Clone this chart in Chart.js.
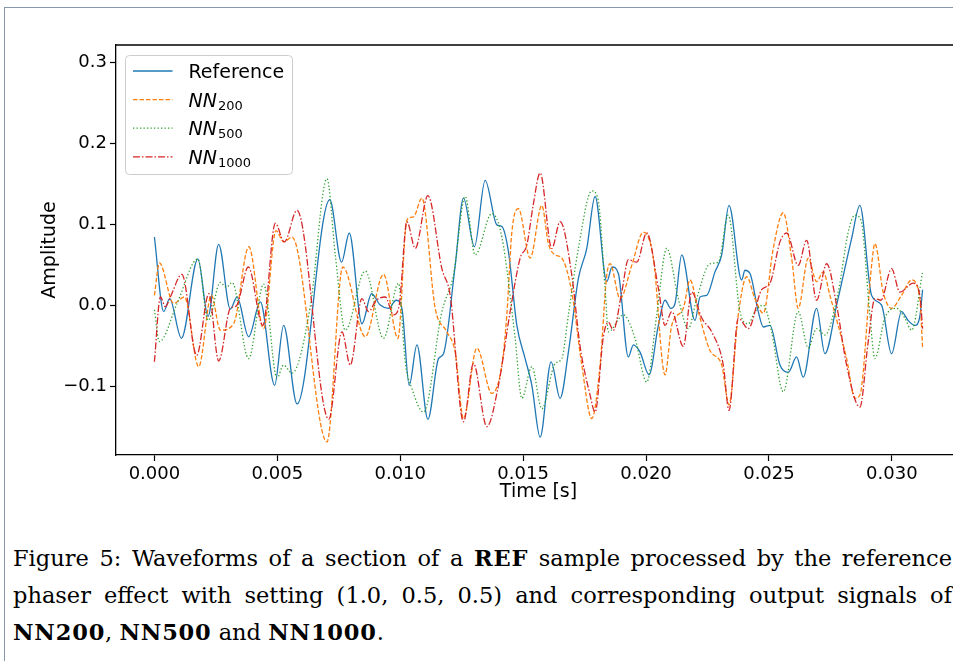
<!DOCTYPE html>
<html>
<head>
<meta charset="utf-8">
<title>Waveforms</title>
<script src="https://cdn.jsdelivr.net/npm/chart.js@4.4.1/dist/chart.umd.min.js"></script>
<style>
  body { margin: 0; background: #fff; overflow: hidden; width: 953px; height: 661px; position: relative; }
  #frame { position: absolute; left: 4px; top: 7px; width: 990px; height: 700px;
           border-top: 1px solid #8796aa; border-left: 1px solid #8796aa; }
  #plot { position: absolute; left: 0; top: 0; width: 975px; height: 520px; }
  #caption { position: absolute; left: 13px; top: 540px; width: 939px;
             font-family: "DejaVu Serif", "Liberation Serif", serif; font-size: 22.5px; line-height: 37px; color: #000; }
  #caption div { text-align: justify; text-align-last: justify; white-space: nowrap; }
  #caption div.last { text-align-last: left; }
  #caption b { letter-spacing: 0.8px; }
</style>
</head>
<body>
<div id="frame"></div>
<div id="plot"><canvas id="chart"></canvas></div>
<div id="caption">
  <div>Figure 5: Waveforms of a section of a <b>REF</b> sample processed by the reference</div>
  <div>phaser effect with setting (1.0, 0.5, 0.5) and corresponding output signals of</div>
  <div class="last"><b>NN200</b>, <b>NN500</b> and <b>NN1000</b>.</div>
</div>
<script>
// --- data (time in ms, amplitude) ---
const refTimeMs = [0, 0.378, 0.622, 1.098, 1.768, 2.183, 2.614, 3.089, 3.362, 3.833, 4.309, 4.890, 5.256, 5.801, 7.134, 7.614, 7.927, 8.443, 8.833, 9.187, 9.524, 9.837, 10.069, 10.366, 10.679, 11.126, 11.557, 11.760, 12.236, 12.573, 13.020, 13.455, 13.931, 14.134, 14.402, 14.744, 15.081, 15.354, 15.691, 16.138, 16.504, 16.841, 17.248, 17.589, 17.927, 18.402, 18.618, 18.874, 19.280, 19.484, 19.756, 20.122, 20.500, 20.772, 21.004, 21.179, 21.451, 21.992, 22.195, 22.467, 22.805, 23.077, 23.374, 23.890, 24.024, 24.228, 24.565, 24.768, 25.041, 25.447, 25.785, 26.126, 26.394, 26.939, 27.276, 27.752, 28.362, 28.699, 29.175, 29.581, 29.988, 30.394, 30.663, 30.935, 31.138, 31.25];
const refAmp = [0.084, -0.008, 0.008, -0.041, 0.057, -0.014, 0.075, -0.005, 0.010, -0.039, 0.004, -0.099, -0.025, -0.122, 0.130, 0.053, 0.089, -0.023, 0.014, 0.000, -0.004, 0.006, -0.004, -0.099, -0.049, -0.141, -0.066, -0.060, 0.049, 0.132, 0.072, 0.154, 0.099, 0.097, 0.066, -0.025, -0.066, -0.099, -0.163, -0.070, -0.115, -0.058, 0.033, 0.070, 0.134, 0.029, 0.047, 0.039, -0.064, -0.049, -0.058, -0.086, -0.025, 0.006, -0.004, 0.002, 0.062, -0.019, 0.010, 0.012, 0.041, 0.062, 0.123, 0.031, 0.043, 0.039, -0.008, -0.027, -0.025, -0.074, -0.083, -0.064, -0.089, -0.004, -0.060, 0.000, 0.082, 0.123, 0.012, 0.000, -0.060, -0.008, -0.019, -0.025, -0.014, 0.019];

const nn200TimeMs = [0, 0.203, 0.785, 1.220, 1.801, 2.317, 2.683, 3.224, 3.841, 4.443, 4.947, 5.264, 5.598, 7.020, 7.663, 8.577, 9.321, 9.907, 10.272, 10.541, 10.882, 11.423, 11.898, 12.236, 12.573, 13.118, 13.728, 14.134, 14.337, 14.541, 14.809, 15.285, 15.760, 16.028, 16.301, 16.573, 16.980, 17.386, 17.793, 18.130, 18.402, 18.537, 18.943, 19.419, 19.890, 20.297, 20.772, 21.045, 21.516, 21.789, 22.126, 22.602, 23.077, 23.374, 23.752, 24.093, 24.431, 24.768, 25.175, 25.581, 25.923, 26.191, 26.598, 26.939, 27.207, 27.480, 28.159, 28.496, 28.699, 29.175, 29.309, 29.646, 29.988, 30.394, 30.801, 31.138, 31.25];
const nn200Amp = [0.012, 0.052, 0.002, 0.010, -0.076, 0.012, -0.031, -0.023, 0.072, -0.029, 0.092, 0.078, 0.084, -0.169, 0.047, -0.039, 0.038, -0.041, 0.105, 0.109, 0.132, -0.004, -0.033, -0.058, -0.140, -0.053, -0.109, -0.074, -0.012, 0.090, 0.119, 0.058, 0.123, 0.076, 0.062, 0.058, 0.016, -0.074, -0.140, -0.074, 0.037, 0.051, 0.008, 0.049, 0.090, 0.058, -0.086, -0.025, -0.004, 0.031, -0.008, -0.056, -0.074, -0.123, -0.012, 0.035, 0.008, -0.010, 0.070, 0.114, 0.058, -0.004, 0.058, 0.029, 0.041, 0.012, -0.066, -0.115, -0.111, 0.049, 0.076, 0.016, -0.004, 0.012, 0.031, 0.008, -0.053];

const nn500TimeMs = [0, 0.203, 0.923, 1.768, 2.183, 2.683, 2.927, 3.159, 3.833, 4.443, 4.988, 5.256, 5.598, 6.341, 7.020, 7.358, 7.764, 8.577, 9.321, 9.931, 10.203, 10.476, 10.947, 11.695, 12.167, 12.642, 13.049, 13.728, 14.134, 14.675, 14.947, 15.354, 15.760, 16.301, 16.573, 16.841, 17.248, 17.793, 18.049, 18.333, 18.468, 19.077, 19.553, 20.028, 20.435, 20.841, 21.313, 21.720, 22.061, 22.602, 22.939, 23.346, 23.821, 24.159, 24.431, 24.768, 25.110, 25.581, 26.191, 26.598, 26.939, 27.276, 27.817, 28.224, 28.496, 28.740, 29.106, 29.309, 29.715, 30.191, 30.528, 30.801, 31.25];
const nn500Amp = [-0.006, -0.045, 0.002, 0.057, -0.019, 0.028, 0.022, 0.028, -0.066, 0.026, -0.090, -0.074, -0.084, -0.002, 0.156, 0.062, -0.031, 0.042, -0.041, 0.027, -0.070, -0.103, -0.132, -0.008, 0.037, 0.134, 0.062, 0.113, 0.084, -0.041, -0.115, -0.076, -0.128, -0.072, -0.066, -0.012, 0.070, 0.141, 0.130, 0.021, -0.033, -0.012, -0.041, -0.095, -0.012, 0.070, 0.008, -0.029, 0.008, 0.051, 0.053, 0.111, -0.008, -0.023, -0.008, 0.000, -0.033, -0.107, -0.008, -0.053, -0.029, -0.037, 0.016, 0.090, 0.111, 0.105, -0.012, -0.066, -0.016, -0.004, -0.016, -0.031, 0.041];

const nn1000TimeMs = [0, 0.244, 0.447, 0.650, 1.118, 1.720, 2.215, 2.614, 3.089, 3.333, 3.821, 4.411, 4.919, 5.285, 5.801, 7.093, 7.630, 7.967, 8.443, 8.711, 9.024, 9.390, 9.728, 9.959, 10.272, 10.610, 11.126, 11.695, 12.033, 12.573, 12.980, 13.524, 13.996, 14.472, 14.878, 15.150, 15.407, 15.691, 16.167, 16.504, 16.980, 17.317, 17.724, 17.927, 18.264, 18.468, 18.671, 19.012, 19.280, 19.622, 20.028, 20.500, 20.772, 21.045, 21.516, 21.858, 22.264, 22.671, 23.142, 23.374, 23.752, 24.159, 24.703, 25.041, 25.447, 25.720, 26.191, 26.533, 26.939, 27.346, 27.752, 28.159, 28.699, 29.037, 29.309, 29.553, 29.988, 30.325, 30.866, 31.138, 31.25];
const nn1000Amp = [-0.070, 0.010, -0.002, 0.010, 0.038, -0.062, 0.014, -0.069, -0.004, -0.001, 0.047, -0.025, 0.101, 0.078, 0.117, -0.141, -0.033, -0.074, 0.008, -0.008, 0.006, 0.010, -0.012, 0.000, 0.103, 0.070, 0.135, 0.045, 0.012, -0.144, -0.072, -0.150, -0.099, -0.008, 0.058, 0.074, 0.123, 0.163, 0.070, 0.103, 0.037, -0.051, -0.111, -0.132, -0.039, -0.021, -0.031, 0.016, 0.056, 0.053, 0.089, 0.021, -0.025, -0.008, -0.051, 0.016, -0.016, -0.033, -0.074, -0.130, -0.016, -0.029, 0.019, 0.027, 0.078, 0.089, 0.049, 0.080, 0.006, 0.051, 0.000, -0.074, -0.126, -0.045, 0.008, 0.006, 0.045, 0.016, 0.027, 0.012, -0.029];

const xTicks = [0, 0.005, 0.010, 0.015, 0.020, 0.025, 0.030];
const yTicks = [-0.1, 0.0, 0.1, 0.2, 0.3];
const X_MIN = -0.0015625, X_MAX = 0.0328125;
const Y_MIN = -0.185, Y_MAX = 0.321;

const FONT = '"DejaVu Sans", sans-serif';

// build {x,y} points, time converted to seconds
function toPoints(timesMs, amps) {
    return timesMs.map((t, i) => ({ x: t / 1000, y: amps[i] }));
}

const datasets = [
    { label: 'Reference', data: toPoints(refTimeMs, refAmp), borderColor: '#1f77b4', borderWidth: 1.3, borderDash: [], order: 3 },
    { label: 'NN200', data: toPoints(nn200TimeMs, nn200Amp), borderColor: '#ff7f0e', borderWidth: 1.3, borderDash: [4.5, 2], order: 2 },
    { label: 'NN500', data: toPoints(nn500TimeMs, nn500Amp), borderColor: '#2ca02c', borderWidth: 1.3, borderDash: [1.3, 2.2], order: 1 },
    { label: 'NN1000', data: toPoints(nn1000TimeMs, nn1000Amp), borderColor: '#d62728', borderWidth: 1.3, borderDash: [7, 2, 1.5, 2], order: 0 }
];

// matplotlib-style top spine
const topSpine = {
    id: 'topSpine',
    afterDraw(chart) {
        const { ctx, chartArea } = chart;
        ctx.save();
        ctx.strokeStyle = '#000';
        ctx.lineWidth = 1.3;
        ctx.beginPath();
        ctx.moveTo(chartArea.left, chartArea.top);
        ctx.lineTo(chartArea.right, chartArea.top);
        ctx.stroke();
        ctx.restore();
    }
};

// legend box with subscripted NN labels
const waveLegend = {
    id: 'waveLegend',
    afterDatasetsDraw(chart) {
        const { ctx, chartArea } = chart;
        const left = chartArea.left + 9.5, top = chartArea.top + 10.5;
        ctx.save();
        ctx.beginPath();
        ctx.roundRect(left, top, 167, 119, 4);
        ctx.fillStyle = 'rgba(255,255,255,0.8)';
        ctx.fill();
        ctx.strokeStyle = '#cccccc';
        ctx.lineWidth = 1;
        ctx.stroke();
        chart.data.datasets.forEach((ds, i) => {
            const y = top + 15.5 + i * 28.6;
            ctx.beginPath();
            ctx.setLineDash(ds.borderDash);
            ctx.strokeStyle = ds.borderColor;
            ctx.lineWidth = ds.borderWidth;
            ctx.moveTo(left + 7.5, y);
            ctx.lineTo(left + 47, y);
            ctx.stroke();
            ctx.setLineDash([]);
            ctx.fillStyle = '#000';
            ctx.textAlign = 'left';
            ctx.textBaseline = 'alphabetic';
            const tx = left + 63;
            const m = ds.label.match(/^(\D+)(\d+)$/);
            if (m) {
                ctx.font = 'italic 19px ' + FONT;
                ctx.fillText(m[1], tx, y + 7);
                const w = ctx.measureText(m[1]).width;
                ctx.font = '13px ' + FONT;
                ctx.fillText(m[2], tx + w + 1, y + 10);
            } else {
                ctx.font = '19px ' + FONT;
                ctx.fillText(ds.label, tx, y + 7);
            }
        });
        ctx.restore();
    }
};

const fmt = (v, digits) => v.toFixed(digits).replace('-', '\u2212');

new Chart(document.getElementById('chart'), {
    type: 'line',
    data: { datasets },
    options: {
        responsive: true,
        maintainAspectRatio: false,
        animation: false,
        layout: { padding: { top: 45, right: 14, left: 0, bottom: 0 } },
        elements: {
            point: { radius: 0 },
            line: { cubicInterpolationMode: 'monotone', fill: false }
        },
        plugins: {
            legend: { display: false },
            tooltip: { enabled: false }
        },
        scales: {
            x: {
                type: 'linear',
                min: X_MIN,
                max: X_MAX,
                afterBuildTicks: (axis) => { axis.ticks = xTicks.map(v => ({ value: v })); },
                afterFit: (axis) => { axis.height = 65; },
                ticks: { callback: (v) => fmt(v, 3), color: '#000', font: { family: FONT, size: 18 }, padding: 3, maxRotation: 0, autoSkip: false },
                grid: { drawOnChartArea: false, tickLength: 6, tickColor: '#000', tickWidth: 1.2 },
                border: { color: '#000', width: 1.3 },
                title: { display: true, text: 'Time [s]', color: '#000', font: { family: FONT, size: 19 }, padding: { top: 0, bottom: 17 } }
            },
            y: {
                min: Y_MIN,
                max: Y_MAX,
                afterBuildTicks: (axis) => { axis.ticks = yTicks.map(v => ({ value: v })); },
                afterFit: (axis) => { axis.width = 116; },
                ticks: { callback: (v) => fmt(v, 1), color: '#000', font: { family: FONT, size: 18 }, padding: 3 },
                grid: { drawOnChartArea: false, tickLength: 6, tickColor: '#000', tickWidth: 1.2 },
                border: { color: '#000', width: 1.3 },
                title: { display: true, text: 'Amplitude', color: '#000', font: { family: FONT, size: 19 }, padding: { top: 38.6, bottom: 0 } }
            }
        }
    },
    plugins: [topSpine, waveLegend]
});
</script>
</body>
</html>
